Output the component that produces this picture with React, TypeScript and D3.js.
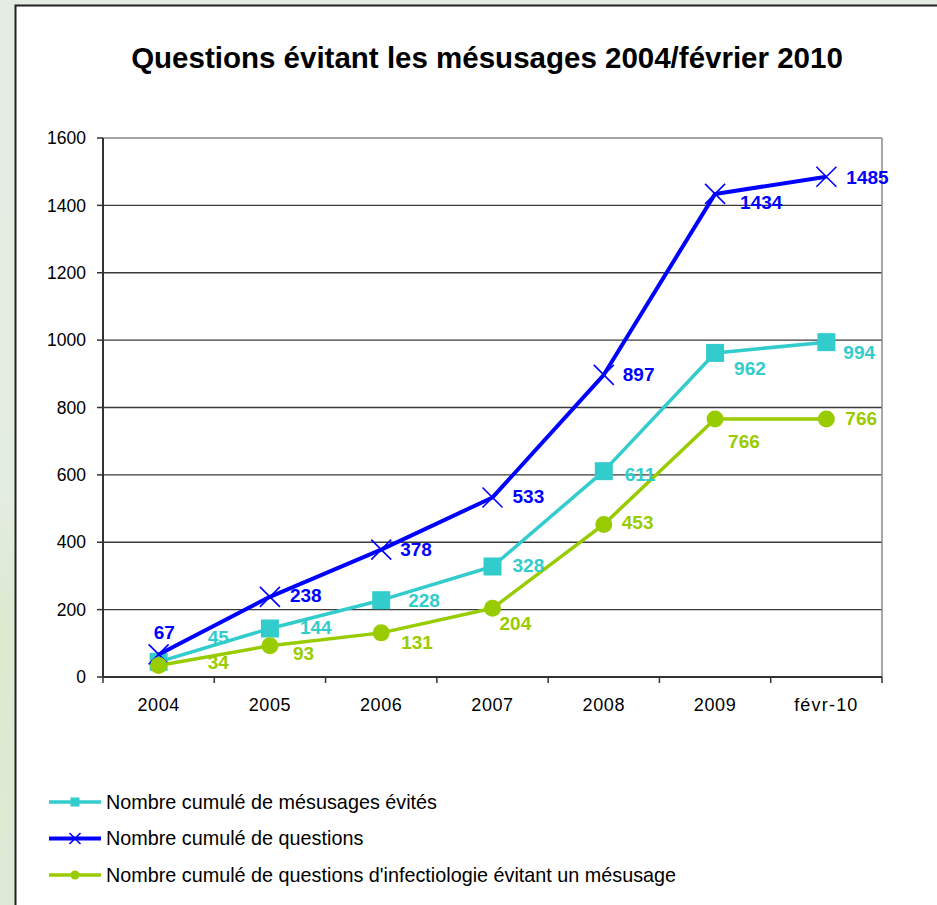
import React from "react";
import * as d3 from "d3";

const title = "Questions évitant les mésusages 2004/février 2010";
const categories = ["2004", "2005", "2006", "2007", "2008", "2009", "févr-10"];
const mesusagesEvites = [45, 144, 228, 328, 611, 962, 994];
const questions = [67, 238, 378, 533, 897, 1434, 1485];
const infectiologie = [34, 93, 131, 204, 453, 766, 766];
const yTicks = [0, 200, 400, 600, 800, 1000, 1200, 1400, 1600];
const seriesNames = [
  "Nombre cumulé de mésusages évités",
  "Nombre cumulé de questions",
  "Nombre cumulé de questions d'infectiologie évitant un mésusage",
];

// label offsets (layout only): [dx, dy] from point
const offEvites = [[49, -25], [30, -1], [27, 0], [20, -1], [21, 3], [19, 15], [17, 10]];
const offQuestions = [[-5, -22], [20, -2], [19, -1], [20, -1], [19, -1], [25, 8], [20, 0]];
const offInfect = [[49, -3], [23, 7], [20, 9], [7, 15], [18, -2], [13, 22], [19, -1]];

const CYAN = "#33cccc";
const BLUE = "#0000ff";
const GREEN = "#99cc00";
const FONT = "Arial, 'Liberation Sans', sans-serif";

export default function App() {
  const W = 937, H = 905;
  const left = 103, right = 882, top = 138, bottom = 677;
  const x = d3.scaleBand().domain(categories).range([left, right]);
  const y = d3.scaleLinear().domain([0, 1600]).range([bottom, top]);
  const cx = (c: string) => (x(c) as number) + x.bandwidth() / 2;
  const line = d3.line<number>().x((_, i) => cx(categories[i])).y((d) => y(d));

  const series = [
    { name: seriesNames[0], values: mesusagesEvites, color: CYAN, width: 3.5, marker: "square", off: offEvites },
    { name: seriesNames[1], values: questions, color: BLUE, width: 4, marker: "x", off: offQuestions },
    { name: seriesNames[2], values: infectiologie, color: GREEN, width: 3.5, marker: "circle", off: offInfect },
  ];

  const marker = (type: string, px: number, py: number, color: string, s: number, key: string) => {
    if (type === "square")
      return <rect key={key} x={px - s} y={py - s} width={2 * s} height={2 * s} fill={color} />;
    if (type === "circle") return <circle key={key} cx={px} cy={py} r={s} fill={color} />;
    return (
      <path key={key} d={`M${px - s},${py - s}L${px + s},${py + s}M${px - s},${py + s}L${px + s},${py - s}`}
        stroke={color} strokeWidth={1.6} fill="none" />
    );
  };
  const markerSize: Record<string, number> = { square: 9, circle: 8.5, x: 10 };
  const legendSize: Record<string, number> = { square: 4.5, circle: 4.5, x: 5.5 };

  return (
    <svg width={W} height={H} style={{ position: "absolute", left: 0, top: 0 }} fontFamily={FONT}>
      <defs>
        <linearGradient id="bgL" x1="0" y1="0" x2="0" y2="1">
          <stop offset="0" stopColor="#e5ece4" />
          <stop offset="0.55" stopColor="#e3ece0" />
          <stop offset="0.7" stopColor="#dcead0" />
          <stop offset="1" stopColor="#dfead6" />
        </linearGradient>
      </defs>
      <rect x={0} y={0} width={W} height={H} fill="#e5ece4" />
      <rect x={0} y={0} width={16} height={H} fill="url(#bgL)" />
      <rect x={15.5} y={5.5} width={W + 20} height={H + 20} fill="#ffffff" stroke="#222" strokeWidth={2} />

      <text x={487} y={68} textAnchor="middle" fontSize={29.5} fontWeight="bold" fill="#000">{title}</text>

      {/* grid */}
      {yTicks.map((t) => (
        <line key={"g" + t} x1={left} x2={right} y1={y(t)} y2={y(t)}
          stroke={t === 1600 ? "#8a8a8a" : "#3a3a3a"} strokeWidth={1.3} />
      ))}
      <line x1={right} x2={right} y1={top} y2={bottom} stroke="#8a8a8a" strokeWidth={1.5} />

      {/* y axis */}
      <line x1={left} x2={left} y1={top} y2={bottom} stroke="#333" strokeWidth={2} />
      {yTicks.map((t) => (
        <g key={"yt" + t}>
          <line x1={left - 6} x2={left} y1={y(t)} y2={y(t)} stroke="#333" strokeWidth={1.5} />
          <text x={86} y={y(t)} dy="0.35em" textAnchor="end" fontSize={17.5} fill="#000">{t}</text>
        </g>
      ))}

      {/* x axis */}
      <line x1={left} x2={right} y1={bottom} y2={bottom} stroke="#333" strokeWidth={2} />
      {categories.map((c, i) => (
        <line key={"xt" + i} x1={x(c) as number} x2={x(c) as number} y1={bottom} y2={bottom + 6}
          stroke="#333" strokeWidth={1.5} />
      ))}
      <line x1={right} x2={right} y1={bottom} y2={bottom + 6} stroke="#333" strokeWidth={1.5} />
      {categories.map((c) => (
        <text key={"xl" + c} x={cx(c)} y={705} dy="0.35em" textAnchor="middle" fontSize={18}
          letterSpacing={c.startsWith("f") ? 1.2 : 0.6} fill="#000">{c}</text>
      ))}

      {/* series */}
      {series.map((s, si) => (
        <g key={"s" + si}>
          <path d={line(s.values) as string} fill="none" stroke={s.color} strokeWidth={s.width}
            strokeLinejoin="round" />
          {s.values.map((v, i) => marker(s.marker, cx(categories[i]), y(v), s.color, markerSize[s.marker], "m" + si + i))}
        </g>
      ))}
      {series.map((s, si) =>
        s.values.map((v, i) => (
          <text key={"l" + si + i} x={cx(categories[i]) + s.off[i][0]} y={y(v) + s.off[i][1]} dy="0.36em"
            fontSize={19} fontWeight="bold" fill={s.color}>{v}</text>
        ))
      )}

      {/* legend */}
      {series.map((s, si) => {
        const ly = 802 + si * 36.5;
        return (
          <g key={"lg" + si}>
            <line x1={49} x2={101} y1={ly} y2={ly} stroke={s.color} strokeWidth={s.width} />
            {marker(s.marker, 75, ly, s.color, legendSize[s.marker], "lm" + si)}
            <text x={106} y={ly} dy="0.35em" fontSize={19.8} fill="#000">{s.name}</text>
          </g>
        );
      })}
    </svg>
  );
}
